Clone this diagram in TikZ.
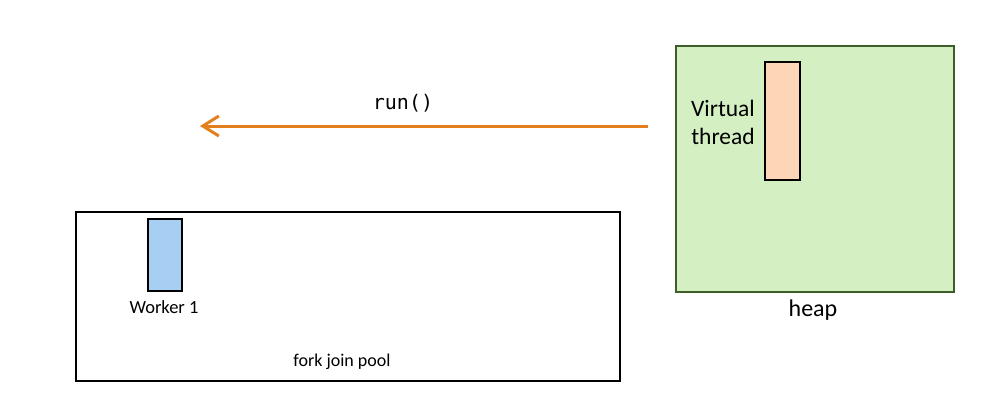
\documentclass[tikz,border=0pt]{standalone}
\usepackage{fontspec}
\setmainfont{Carlito}
\newfontfamily\codefont{DejaVu Sans Mono}
\usetikzlibrary{arrows.meta}
\definecolor{heapfill}{HTML}{D4F0C3}
\definecolor{heapedge}{HTML}{3D5E28}
\definecolor{vtfill}{HTML}{FCD6B6}
\definecolor{workerfill}{HTML}{A7CFF4}
\definecolor{callorange}{HTML}{E47F1E}
\tikzset{
  box/.style={draw=black, line width=2pt, inner sep=0pt, anchor=north west},
  lbl/.style={inner sep=0pt, font=\fontsize{18}{22}\selectfont},
}
\begin{document}
\begin{tikzpicture}[x=1pt, y=-1pt]
  \useasboundingbox (0,0) rectangle (988,408);
  % heap area holding the virtual thread
  \node[box, draw=heapedge, fill=heapfill, minimum width=278pt, minimum height=246pt] (heap) at (675,45) {};
  \node[box, fill=vtfill, minimum width=35pt, minimum height=118pt] (vt) at (764,61) {};
  \node[lbl, font=\fontsize{23.5}{28}\selectfont, align=center] (vtlabel) at (723,122) {Virtual\\thread};
  \node[lbl, font=\fontsize{24}{28}\selectfont] (heaplabel) at (813,310) {heap};
  % fork join pool with its worker
  \node[box, minimum width=544pt, minimum height=169pt] (pool) at (75,211) {};
  \node[box, fill=workerfill, minimum width=34pt, minimum height=72pt] (worker) at (147,218) {};
  \node[lbl, font=\fontsize{18.5}{22}\selectfont] (workerlabel) at (164,307) {Worker 1};
  \node[lbl, font=\fontsize{18}{22}\selectfont] (poollabel) at (342,362) {fork join pool};
  % the run() call going from the heap towards the pool side
  \coordinate (callstart) at (648,126);
  \coordinate (callend) at (200,126);
  \draw[callorange, line width=3pt, -{Straight Barb[length=16pt, width=20pt]}] (callstart) -- (callend);
  \node[lbl, font=\codefont\fontsize{20}{24}\selectfont] (runlabel) at (403,103) {run()};
\end{tikzpicture}
\end{document}
